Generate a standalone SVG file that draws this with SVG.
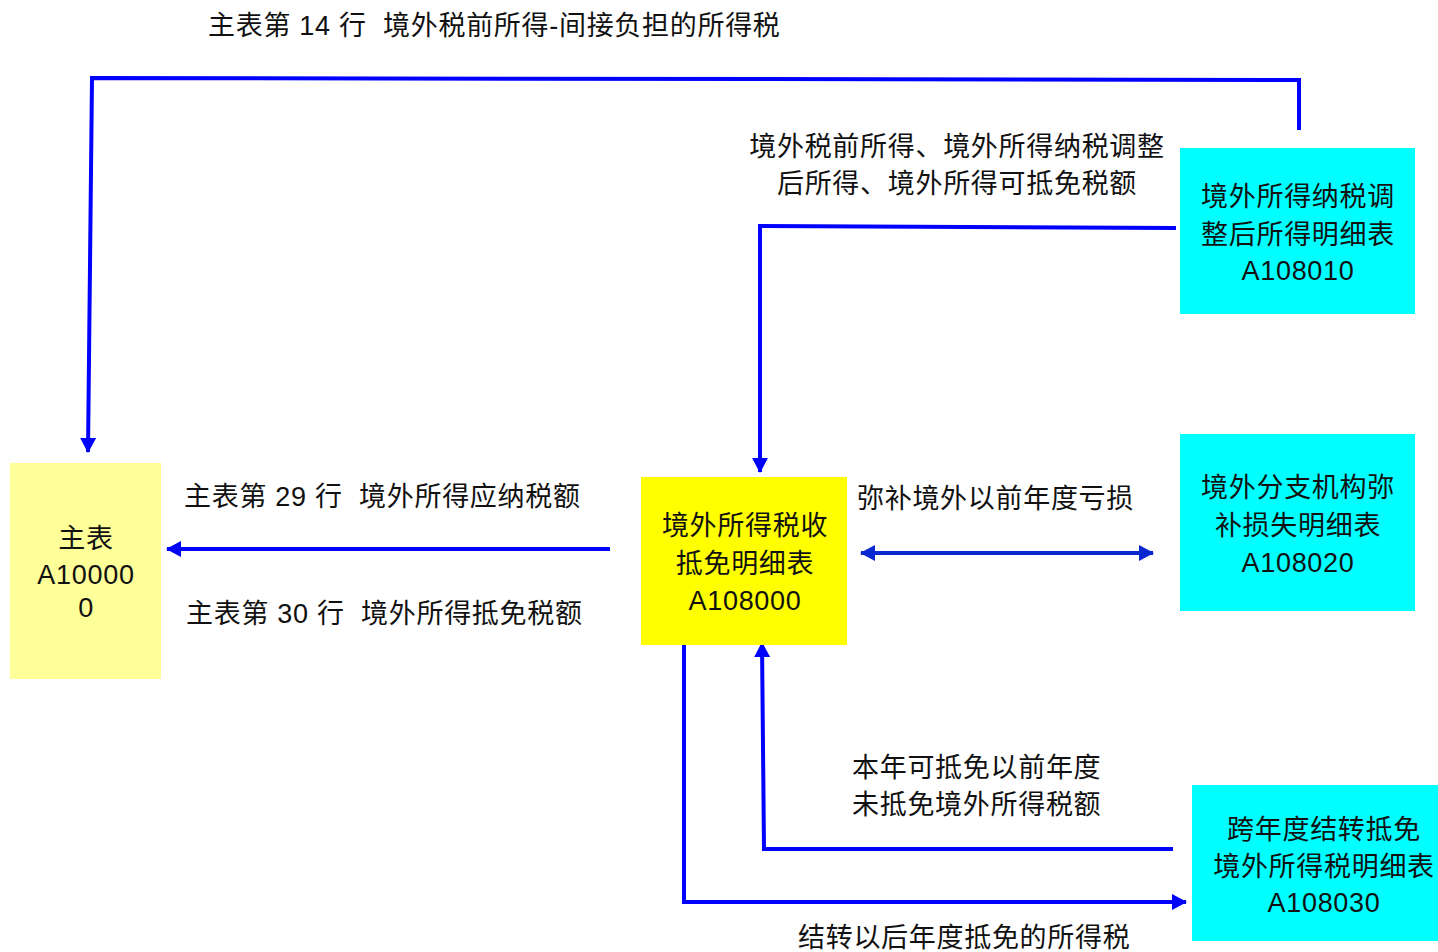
<svg xmlns="http://www.w3.org/2000/svg" width="1438" height="952" viewBox="0 0 1438 952">
<style>
text{font-family:"Liberation Sans","Noto Sans CJK SC",sans-serif;font-size:27px;fill:#111;letter-spacing:0.7px;white-space:pre}
.c{text-anchor:middle}
.ln{fill:none;stroke:#0000FF;stroke-width:4}
.ln2{fill:none;stroke:#0A28D0;stroke-width:4}
</style>
<defs>
<marker id="ah" markerUnits="userSpaceOnUse" markerWidth="16" markerHeight="16" refX="14" refY="8" orient="auto">
<path d="M0,0 L15,8 L0,16 Z" fill="#0000FF"/>
</marker>
<marker id="ah2" markerUnits="userSpaceOnUse" markerWidth="16" markerHeight="16" refX="14" refY="8" orient="auto-start-reverse">
<path d="M0,0 L15,8 L0,16 Z" fill="#0A28D0"/>
</marker>
</defs>
<rect width="1438" height="952" fill="#fff"/>
<g id="connectors">
<polyline class="ln" points="1299,130 1299,80 92,78 88,452" marker-end="url(#ah)"/>
<polyline class="ln" points="1176,228 760,226 760,472" marker-end="url(#ah)"/>
<line class="ln" x1="610" y1="549" x2="167" y2="549" marker-end="url(#ah)"/>
<line class="ln2" x1="861" y1="553" x2="1153" y2="553" marker-start="url(#ah2)" marker-end="url(#ah2)"/>
<polyline class="ln" points="1173,849 764,849 762,643" marker-end="url(#ah)"/>
<polyline class="ln" points="684,643 684,902 1186,902" marker-end="url(#ah)"/>
</g>
<g id="n-main">
<rect x="10" y="463" width="151" height="216" fill="#FFFF99"/>
<text class="c" x="86" y="548">主表</text>
<text class="c" x="86" y="584">A10000</text>
<text class="c" x="86" y="617">0</text>
</g>
<g id="n-a108000">
<rect x="641" y="477" width="206" height="168" fill="#FFFF00"/>
<text class="c" x="745" y="535">境外所得税收</text>
<text class="c" x="745" y="573">抵免明细表</text>
<text class="c" x="745" y="610">A108000</text>
</g>
<g id="n-a108010">
<rect x="1180" y="148" width="235" height="166" fill="#00FFFF"/>
<text class="c" x="1298" y="206">境外所得纳税调</text>
<text class="c" x="1298" y="244">整后所得明细表</text>
<text class="c" x="1298" y="280">A108010</text>
</g>
<g id="n-a108020">
<rect x="1180" y="434" width="235" height="177" fill="#00FFFF"/>
<text class="c" x="1298" y="497">境外分支机构弥</text>
<text class="c" x="1298" y="535">补损失明细表</text>
<text class="c" x="1298" y="572">A108020</text>
</g>
<g id="n-a108030">
<rect x="1192" y="785" width="246" height="156" fill="#00FFFF"/>
<text class="c" x="1324" y="839">跨年度结转抵免</text>
<text class="c" x="1324" y="876">境外所得税明细表</text>
<text class="c" x="1324" y="912">A108030</text>
</g>
<g id="labels">
<text x="208" y="35">主表第 14 行  境外税前所得-间接负担的所得税</text>
<text class="c" x="957" y="156">境外税前所得、境外所得纳税调整</text>
<text class="c" x="957" y="193">后所得、境外所得可抵免税额</text>
<text x="184" y="506">主表第 29 行  境外所得应纳税额</text>
<text x="186" y="623">主表第 30 行  境外所得抵免税额</text>
<text x="857" y="508">弥补境外以前年度亏损</text>
<text x="852" y="777">本年可抵免以前年度</text>
<text x="852" y="814">未抵免境外所得税额</text>
<text x="798" y="947">结转以后年度抵免的所得税</text>
</g>
</svg>
